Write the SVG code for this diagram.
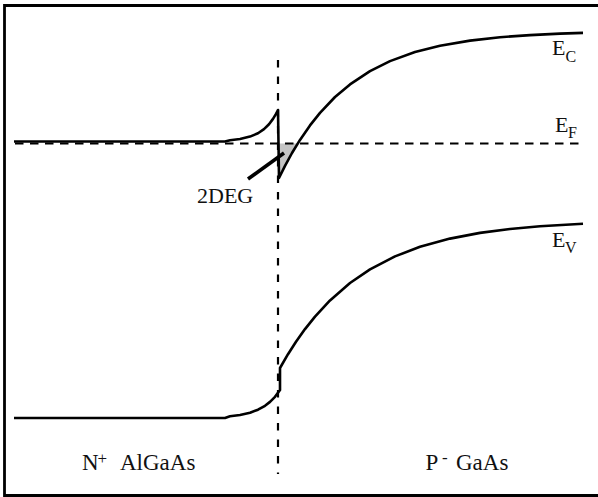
<svg xmlns="http://www.w3.org/2000/svg" width="598" height="497" viewBox="0 0 598 497">
<style>
.band{fill:none;stroke:#000;stroke-width:2.6;stroke-linejoin:round;stroke-linecap:butt}
.dash{fill:none;stroke:#000;stroke-width:2.2}
.lbl{font-family:"Liberation Serif","Times New Roman",serif;fill:#111}
</style>
<rect width="598" height="497" fill="#fff"/>
<path id="frame" d="M600,5.5 H4.5 V495.5 H600" fill="none" stroke="#000" stroke-width="2.8"/>
<g id="twodeg-fill">
<polygon points="279,143.5 298.5,143.5 279,177" fill="#c4c4c4"/>
</g>
<g id="connectors">
<line id="fermi-level" class="dash" x1="15" y1="143.5" x2="583" y2="143.5" stroke-dasharray="8.5 6.5"/>
<line id="interface" class="dash" x1="278" y1="60" x2="278" y2="474" stroke-dasharray="7.5 9"/>
<line id="pointer" x1="248" y1="179" x2="284" y2="153" stroke="#000" stroke-width="3.6"/>
</g>
<g id="conduction-band">
<path class="band" d="M14,141.5 H225 L230,140.2 L240,139 L250,136.6 L258,133.2 L264,129.1 L269,124.2 L273,118.9 L276,113.9 L278,110 L279,178 L285,165.9 L292,153 L300,139.9 L310,125.4 L320,112.9 L335,97 L350,84.4 L370,71.1 L390,61.1 L415,52 L440,45.7 L470,40.6 L500,37.2 L530,35.1 L560,33.6 L583,32.9"/>
</g>
<g id="valence-band">
<path class="band" d="M14,418 H225 L230,416.3 L240,415 L250,412.7 L258,409.7 L265,405.8 L270,401.9 L275,396.8 L280,390 L280,368 L288,354.2 L296,341.8 L305,329.1 L315,316.6 L330,300.4 L350,283 L370,269.4 L395,256.4 L420,246.8 L450,238.6 L480,232.9 L510,229 L540,226.2 L583,223.7"/>
</g>
<g id="label-ec">
<text class="lbl" x="552" y="55" font-size="22">E<tspan x="565.5" y="61.5" font-size="16">C</tspan></text>
</g>
<g id="label-ef">
<text class="lbl" x="555" y="131.7" font-size="22">E<tspan x="568" y="138" font-size="16">F</tspan></text>
</g>
<g id="label-ev">
<text class="lbl" x="552" y="246.7" font-size="22">E<tspan x="565" y="253" font-size="16">V</tspan></text>
</g>
<g id="label-2deg">
<text class="lbl" x="197" y="203" font-size="22">2DEG</text>
</g>
<g id="label-n-algaas">
<text class="lbl" x="82" y="470" font-size="23">N<tspan x="97.5" y="464" font-size="17">+</tspan><tspan x="120" y="470">AlGaAs</tspan></text>
</g>
<g id="label-p-gaas">
<text class="lbl" x="425.6" y="470" font-size="23">P<tspan x="442" y="463" font-size="17">-</tspan><tspan x="456" y="470">GaAs</tspan></text>
</g>
</svg>
